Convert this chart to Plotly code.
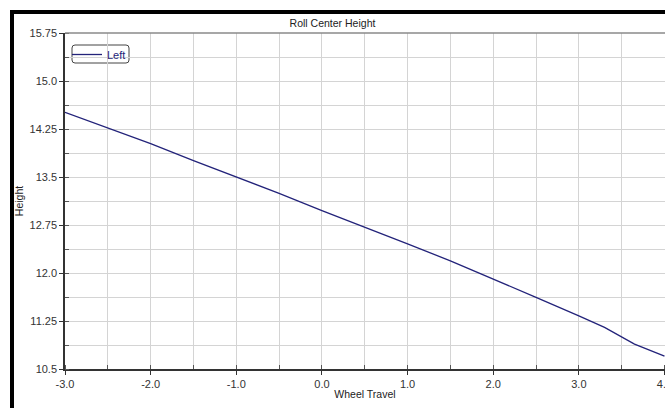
import plotly.graph_objects as go

wheel_travel = [-3.0, -2.5, -2.0, -1.5, -1.0, -0.5, 0.0, 0.5, 1.0, 1.5, 2.0, 2.5, 3.0, 3.3, 3.65, 4.0]
height_left = [14.51, 14.27, 14.02, 13.755, 13.50, 13.245, 12.975, 12.72, 12.455, 12.19, 11.91, 11.62, 11.33, 11.15, 10.89, 10.70]

y_tickvals = [10.5, 11.25, 12.0, 12.75, 13.5, 14.25, 15.0, 15.75]
y_ticktext = ["10.5", "11.25", "12.0", "12.75", "13.5", "14.25", "15.0", "15.75"]
x_tickvals = [-3, -2, -1, 0, 1, 2, 3, 4]
x_ticktext = ["-3.0", "-2.0", "-1.0", "0.0", "1.0", "2.0", "3.0", "4.0"]

FONT = "Liberation Sans, Arial, sans-serif"
W, H = 665, 408
L, R, T, B = 65, 0, 33, 39
pw, ph = W - L - R, H - T - B

def px(x):
    return (x - L) / pw

def py(y):
    return (H - B - y) / ph

fig = go.Figure()
fig.add_trace(go.Scatter(x=wheel_travel, y=height_left, mode="lines", name="Left",
                         line=dict(color="#23237a", width=1.3)))

shapes = [
    # black frame
    dict(type="rect", xref="paper", yref="paper", x0=px(10), x1=px(666), y0=py(14), y1=py(10),
         fillcolor="black", line=dict(width=0), layer="above"),
    dict(type="rect", xref="paper", yref="paper", x0=px(10), x1=px(14), y0=py(409), y1=py(10),
         fillcolor="black", line=dict(width=0), layer="above"),
    # top plot border
    dict(type="line", xref="paper", yref="paper", x0=0, x1=1, y0=1, y1=1,
         line=dict(color="#8a8a8a", width=1.5), layer="above"),
]
# rounded legend box
x0, x1, y0, y1, r = 72, 129, 45, 63, 3
path = (f"M {px(x0+r)} {py(y0)} L {px(x1-r)} {py(y0)} Q {px(x1)} {py(y0)} {px(x1)} {py(y0+r)} "
        f"L {px(x1)} {py(y1-r)} Q {px(x1)} {py(y1)} {px(x1-r)} {py(y1)} "
        f"L {px(x0+r)} {py(y1)} Q {px(x0)} {py(y1)} {px(x0)} {py(y1-r)} "
        f"L {px(x0)} {py(y0+r)} Q {px(x0)} {py(y0)} {px(x0+r)} {py(y0)} Z")
shapes.append(dict(type="path", xref="paper", yref="paper", path=path,
                   fillcolor="white", line=dict(color="#444444", width=1), layer="below"))

fig.update_layout(
    width=W, height=H,
    margin=dict(l=L, r=R, t=T, b=B, autoexpand=False),
    paper_bgcolor="white", plot_bgcolor="white",
    font=dict(family=FONT, size=11, color="#333333"),
    title=dict(text="Roll Center Height", x=px(365), xanchor="center", y=1 - 23 / H, yanchor="middle",
               font=dict(family=FONT, size=10.5, color="#222222")),
    showlegend=True,
    legend=dict(x=px(67), y=py(40), xanchor="left", yanchor="top", bgcolor="rgba(0,0,0,0)",
                borderwidth=0, font=dict(family=FONT, size=11, color="#23237a"),
                itemwidth=30, tracegroupgap=0),
    shapes=shapes,
)

fig.update_xaxes(
    range=[-3, 4.006], tickvals=x_tickvals, ticktext=x_ticktext,
    ticklabeloverflow="allow", automargin=False,
    showgrid=True, gridcolor="#d4d4d4", gridwidth=1,
    showline=True, linecolor="#333333", linewidth=1.5,
    ticks="outside", ticklen=4, tickcolor="#333333",
    minor=dict(dtick=0.5, showgrid=True, gridcolor="#d4d4d4", gridwidth=1,
               ticks="inside", ticklen=4, tickcolor="#555555"),
    zeroline=False, tickfont=dict(size=11, color="#333333"),
    title=dict(text="Wheel Travel", font=dict(size=10.5, color="#222222"), standoff=2),
)
fig.update_yaxes(
    range=[10.5, 15.75], tickvals=y_tickvals, ticktext=y_ticktext,
    automargin=False,
    showgrid=True, gridcolor="#d4d4d4", gridwidth=1,
    showline=True, linecolor="#333333", linewidth=1.5,
    ticks="outside", ticklen=4, tickcolor="#333333",
    minor=dict(dtick=0.375, tick0=10.5, showgrid=True, gridcolor="#d4d4d4", gridwidth=1,
               ticks="inside", ticklen=4, tickcolor="#555555"),
    zeroline=False, tickfont=dict(size=11, color="#333333"),
    title=dict(text="Height", font=dict(size=10.5, color="#222222"), standoff=4),
)

fig.write_html("out.html",
               config={"displayModeBar": False},
               post_script="document.body.style.margin='0';"
                           "document.documentElement.style.overflow='hidden';")
